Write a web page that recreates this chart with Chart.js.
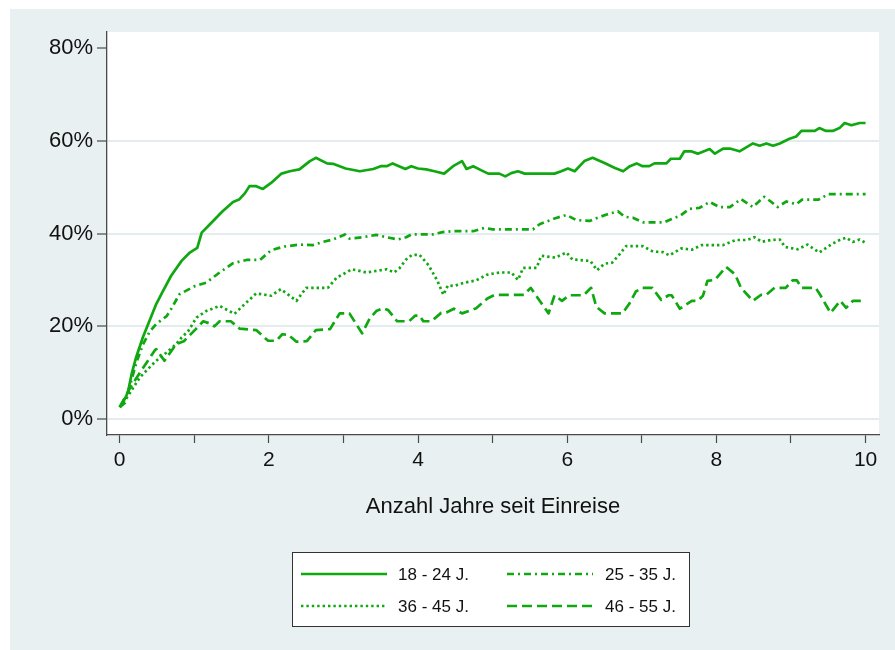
<!DOCTYPE html>
<html>
<head>
<meta charset="utf-8">
<script src="https://cdn.jsdelivr.net/npm/chart.js@4/dist/chart.umd.min.js"></script>
<style>
  html, body { margin: 0; padding: 0; background: #ffffff; }
  #wrap { width: 895px; height: 650px; }
</style>
</head>
<body>
<div id="wrap"><canvas id="c" width="895" height="650"></canvas></div>
<script>
// Years since entry (x) and share in percent (y), one pair of arrays per age group
const years1824 = [0, 0.07, 0.11, 0.16, 0.22, 0.31, 0.40, 0.49, 0.58, 0.69, 0.83, 0.94, 1.04, 1.10, 1.21, 1.38, 1.52, 1.60, 1.68, 1.74,
  1.83, 1.92, 2.03, 2.17, 2.28, 2.41, 2.55, 2.63, 2.78, 2.86, 3.03, 3.22, 3.40, 3.50, 3.58, 3.66, 3.83, 3.91, 4.00, 4.11,
  4.22, 4.35, 4.47, 4.59, 4.65, 4.74, 4.85, 4.94, 5.09, 5.17, 5.25, 5.34, 5.43, 5.83, 5.92, 6.01, 6.10, 6.23, 6.34, 6.50,
  6.64, 6.75, 6.84, 6.93, 7.01, 7.10, 7.17, 7.33, 7.39, 7.51, 7.57, 7.66, 7.75, 7.91, 7.98, 8.09, 8.18, 8.31, 8.49, 8.58,
  8.67, 8.76, 8.85, 8.98, 9.07, 9.14, 9.32, 9.38, 9.47, 9.56, 9.65, 9.72, 9.81, 9.92, 10.0];
const share1824 = [2.6, 4.4, 5.8, 9.7, 13.3, 17.6, 21.2, 24.8, 27.6, 30.9, 34.1, 35.9, 36.9, 40.2, 42.0, 44.8, 46.8, 47.3, 48.7, 50.2,
  50.2, 49.6, 50.9, 52.9, 53.4, 53.8, 55.6, 56.3, 55.1, 55.0, 54.0, 53.4, 53.9, 54.5, 54.5, 55.1, 53.9, 54.5, 54.0, 53.8,
  53.4, 52.9, 54.5, 55.6, 53.9, 54.5, 53.6, 52.9, 52.9, 52.3, 53.0, 53.4, 52.9, 52.9, 53.4, 54.0, 53.4, 55.6, 56.3, 55.2,
  54.1, 53.4, 54.5, 55.1, 54.5, 54.5, 55.1, 55.1, 56.1, 56.1, 57.7, 57.7, 57.2, 58.2, 57.2, 58.3, 58.3, 57.7, 59.4, 58.9,
  59.4, 58.9, 59.4, 60.4, 60.9, 62.1, 62.1, 62.7, 62.1, 62.1, 62.7, 63.8, 63.3, 63.8, 63.8];

const years2535 = [0, 0.07, 0.16, 0.22, 0.31, 0.40, 0.49, 0.58, 0.63, 0.70, 0.80, 1.01, 1.16, 1.34, 1.52, 1.70, 1.88, 2.03, 2.21, 2.41,
  2.59, 2.73, 2.86, 3.02, 3.08, 3.26, 3.44, 3.58, 3.73, 3.84, 3.91, 4.20, 4.33, 4.47, 4.74, 4.89, 5.00, 5.54, 5.63, 5.84,
  5.99, 6.12, 6.30, 6.39, 6.53, 6.68, 6.77, 6.88, 7.02, 7.30, 7.40, 7.51, 7.64, 7.77, 7.91, 8.04, 8.18, 8.33, 8.49, 8.64,
  8.72, 8.82, 8.94, 9.07, 9.15, 9.37, 9.50, 10.0];
const share2535 = [2.6, 3.5, 8.5, 12.0, 16.0, 18.8, 20.5, 21.6, 22.2, 24.0, 26.9, 28.7, 29.4, 31.6, 33.6, 34.3, 34.3, 36.4, 37.2, 37.6,
  37.5, 38.2, 38.7, 39.8, 38.9, 39.2, 39.7, 39.2, 38.7, 39.2, 39.8, 39.8, 40.3, 40.5, 40.5, 41.2, 40.9, 40.9, 42.0, 43.3,
  44.0, 42.9, 42.7, 43.3, 44.1, 44.8, 43.6, 43.4, 42.4, 42.4, 43.1, 43.8, 45.3, 45.5, 46.8, 45.7, 45.7, 47.4, 45.7, 47.9,
  47.0, 45.7, 46.9, 46.3, 47.3, 47.3, 48.5, 48.5];

const years3645 = [0, 0.04, 0.13, 0.27, 0.36, 0.49, 0.60, 0.76, 0.83, 0.92, 1.03, 1.16, 1.34, 1.54, 1.65, 1.83, 2.03, 2.16, 2.28, 2.37,
  2.50, 2.79, 2.91, 3.06, 3.11, 3.31, 3.58, 3.68, 3.75, 3.84, 3.92, 4.02, 4.14, 4.26, 4.34, 4.40, 4.48, 4.62, 4.78, 4.92,
  5.09, 5.25, 5.34, 5.41, 5.59, 5.65, 5.84, 5.99, 6.07, 6.31, 6.40, 6.50, 6.60, 6.69, 6.79, 7.01, 7.15, 7.28, 7.37, 7.53,
  7.67, 7.80, 8.09, 8.26, 8.41, 8.51, 8.61, 8.73, 8.85, 8.92, 9.09, 9.22, 9.38, 9.50, 9.62, 9.74, 9.83, 9.92, 10.0];
const share3645 = [2.6, 3.3, 5.5, 9.0, 10.5, 12.6, 14.0, 16.2, 17.6, 19.0, 21.9, 23.3, 24.4, 22.7, 24.4, 27.1, 26.6, 28.0, 26.6, 25.5,
  28.3, 28.3, 30.5, 31.8, 32.3, 31.6, 32.3, 31.6, 32.5, 34.4, 35.4, 35.4, 33.2, 29.8, 26.8, 28.8, 28.7, 29.4, 29.9, 31.1,
  31.6, 31.6, 30.0, 32.6, 32.6, 35.2, 34.8, 35.9, 34.4, 34.1, 32.1, 33.5, 33.7, 35.3, 37.3, 37.3, 36.1, 36.0, 35.3, 36.8,
  36.5, 37.5, 37.5, 38.6, 38.6, 39.2, 38.2, 38.6, 38.7, 37.1, 36.6, 37.6, 35.9, 37.2, 38.4, 39.1, 38.2, 38.7, 38.0];

const years4655 = [0, 0.13, 0.29, 0.47, 0.49, 0.60, 0.76, 0.86, 1.02, 1.12, 1.21, 1.27, 1.34, 1.49, 1.61, 1.83, 1.99, 2.10, 2.18, 2.26,
  2.37, 2.51, 2.63, 2.82, 2.95, 3.08, 3.25, 3.35, 3.44, 3.53, 3.60, 3.72, 3.88, 3.96, 4.02, 4.07, 4.18, 4.31, 4.38, 4.48,
  4.59, 4.78, 4.93, 5.03, 5.42, 5.51, 5.64, 5.75, 5.83, 5.93, 6.03, 6.22, 6.32, 6.39, 6.50, 6.74, 6.83, 6.92, 7.01, 7.14,
  7.26, 7.36, 7.40, 7.51, 7.67, 7.75, 7.82, 7.88, 7.98, 8.13, 8.25, 8.33, 8.49, 8.60, 8.67, 8.78, 8.93, 9.02, 9.08, 9.14,
  9.33, 9.38, 9.53, 9.66, 9.74, 9.83, 10.0];
const share4655 = [2.6, 6.5, 10.5, 14.8, 15.1, 12.6, 16.2, 16.8, 19.4, 21.1, 20.6, 20.0, 21.1, 21.1, 19.5, 19.2, 16.9, 16.9, 18.3, 18.2,
  16.7, 16.8, 19.2, 19.4, 22.8, 22.8, 18.5, 21.6, 23.3, 23.9, 23.5, 21.1, 21.1, 22.3, 22.3, 21.1, 21.1, 22.9, 23.0, 23.8,
  22.8, 23.9, 26.0, 26.8, 26.8, 28.3, 25.3, 22.8, 26.7, 25.5, 26.7, 26.7, 28.3, 24.2, 22.8, 22.8, 24.8, 27.5, 28.3, 28.3,
  25.7, 26.7, 26.7, 23.8, 25.5, 25.5, 26.6, 29.8, 30.0, 32.8, 31.2, 28.3, 25.5, 26.8, 26.8, 28.3, 28.3, 29.9, 29.9, 28.3,
  28.3, 27.1, 22.9, 25.5, 24.0, 25.5, 25.5];

const groupLabels = ['18 - 24 J.', '25 - 35 J.', '36 - 45 J.', '46 - 55 J.'];
const yTickValues = [0, 20, 40, 60, 80];
const xTickValues = [0, 1, 2, 3, 4, 5, 6, 7, 8, 9, 10];
const xTitle = 'Anzahl Jahre seit Einreise';

const GREEN = '#10a810';
const BG = '#e9f0f2';
const GRID = '#e3ecef';
const AXIS = '#4a4a4a';
const FONT = '"Liberation Sans", Arial, Helvetica, sans-serif';

const toPoints = (xs, ys) => xs.map((x, i) => ({ x: x, y: ys[i] }));

const lineStyle = (dash) => ({
  borderColor: GREEN,
  backgroundColor: GREEN,
  borderWidth: 2.7,
  borderDash: dash,
  pointRadius: 0,
  pointHoverRadius: 0,
  tension: 0,
  fill: false,
  borderJoinStyle: 'round'
});

const datasets = [
  Object.assign({ label: groupLabels[0], data: toPoints(years1824, share1824) }, lineStyle([])),
  Object.assign({ label: groupLabels[1], data: toPoints(years2535, share2535) }, lineStyle([7, 4, 2, 4])),
  Object.assign({ label: groupLabels[2], data: toPoints(years3645, share3645) }, lineStyle([2.4, 3])),
  Object.assign({ label: groupLabels[3], data: toPoints(years4655, share4655) }, lineStyle([10, 5]))
];

// Graph region, white plot region
const backdrop = {
  id: 'backdrop',
  beforeDraw(chart) {
    const { ctx, chartArea: a } = chart;
    ctx.save();
    ctx.fillStyle = '#ffffff';
    ctx.fillRect(0, 0, chart.width, chart.height);
    ctx.fillStyle = BG;
    ctx.fillRect(10, 9, chart.width - 10, chart.height - 9);
    ctx.fillStyle = '#ffffff';
    ctx.fillRect(a.left, a.top, a.right - a.left, a.bottom - a.top);
    ctx.restore();
  }
};

// Boxed two-column key below the axis title
const boxedKey = {
  id: 'boxedKey',
  afterDraw(chart) {
    const { ctx } = chart;
    const box = { x: 292, y: 552, w: 397, h: 74 };
    ctx.save();
    ctx.fillStyle = '#ffffff';
    ctx.fillRect(box.x, box.y, box.w, box.h);
    ctx.strokeStyle = '#333333';
    ctx.lineWidth = 1;
    ctx.strokeRect(box.x + 0.5, box.y + 0.5, box.w, box.h);
    const cols = [{ x0: 301, x1: 387, tx: 398 }, { x0: 507, x1: 593, tx: 605 }];
    const rows = [574, 606];
    ctx.font = '17px ' + FONT;
    ctx.textBaseline = 'middle';
    ctx.textAlign = 'left';
    chart.data.datasets.forEach((ds, i) => {
      const c = cols[i % 2];
      const y = rows[Math.floor(i / 2)];
      ctx.strokeStyle = ds.borderColor;
      ctx.lineWidth = ds.borderWidth;
      ctx.setLineDash(ds.borderDash || []);
      ctx.beginPath();
      ctx.moveTo(c.x0, y);
      ctx.lineTo(c.x1, y);
      ctx.stroke();
      ctx.setLineDash([]);
      ctx.fillStyle = '#111111';
      ctx.fillText(ds.label, c.tx, y + 1);
    });
    ctx.restore();
  }
};

new Chart(document.getElementById('c'), {
  type: 'line',
  data: { datasets: datasets },
  plugins: [backdrop, boxedKey],
  options: {
    responsive: false,
    animation: false,
    events: [],
    layout: { padding: { left: 0, top: 32, right: 16, bottom: 0 } },
    plugins: { legend: { display: false }, tooltip: { enabled: false } },
    scales: {
      x: {
        type: 'linear',
        min: -0.17,
        max: 10.18,
        afterBuildTicks(scale) { scale.ticks = xTickValues.map(v => ({ value: v })); },
        afterFit(scale) { scale.height = 215; },
        ticks: {
          autoSkip: false,
          maxRotation: 0,
          padding: 5,
          color: '#111111',
          font: { family: FONT, size: 21 },
          callback: (v) => (v % 2 === 0 ? String(v) : '')
        },
        grid: {
          drawOnChartArea: false,
          drawTicks: true,
          tickLength: 8,
          tickColor: AXIS,
          tickWidth: 1.2
        },
        border: { display: true, color: AXIS, width: 1.3 },
        title: {
          display: true,
          text: xTitle,
          color: '#111111',
          font: { family: FONT, size: 22 },
          padding: { top: 0, bottom: 130 }
        }
      },
      y: {
        type: 'linear',
        min: -3.4,
        max: 83.4,
        afterBuildTicks(scale) { scale.ticks = yTickValues.map(v => ({ value: v })); },
        afterFit(scale) { scale.width = 107; },
        ticks: {
          padding: 4,
          color: '#111111',
          font: { family: FONT, size: 22 },
          callback: (v) => v + '%'
        },
        grid: {
          drawOnChartArea: true,
          drawTicks: true,
          tickLength: 10,
          color: (ctx) => (ctx.tick && ctx.tick.value === 80 ? 'rgba(0,0,0,0)' : GRID),
          lineWidth: 2,
          tickColor: AXIS,
          tickWidth: 1.2
        },
        border: { display: true, color: AXIS, width: 1.3 }
      }
    }
  }
});
</script>
</body>
</html>
